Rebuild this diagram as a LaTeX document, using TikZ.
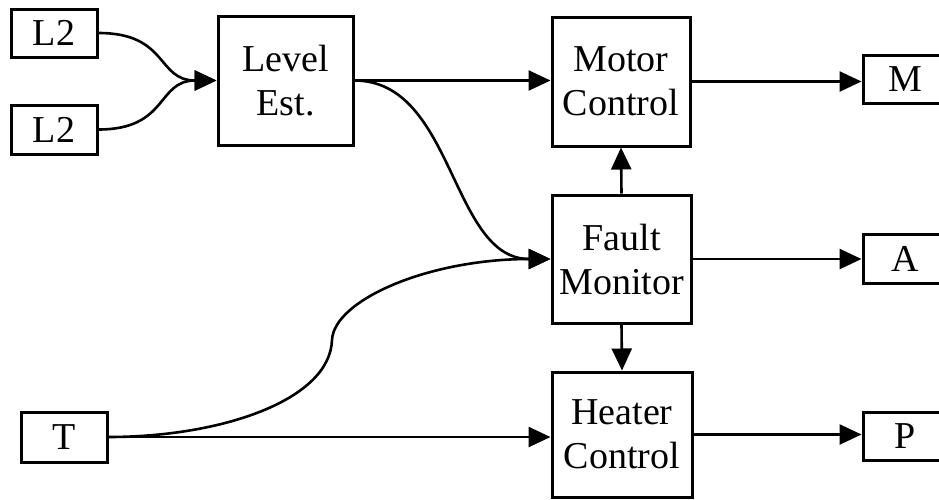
\documentclass[tikz,border=0pt]{standalone}
\usepackage{fontspec}
\setmainfont{Liberation Serif}
\usetikzlibrary{arrows.meta}
\tikzset{
  blk/.style={draw, line width=3pt, inner sep=0pt, align=center,
    font=\fontsize{38}{44}\selectfont},
  conn/.style={line width=2.6pt, -{Triangle[length=22pt,width=20pt]}},
}
\begin{document}
\begin{tikzpicture}[x=1pt,y=-1pt]
\useasboundingbox (0,0) rectangle (939,499);
\fill[white] (0,0) rectangle (939,499);
\node[blk, minimum width=86pt, minimum height=48pt] (L2a) at (54,33) {L2};
\node[blk, minimum width=86pt, minimum height=49pt] (L2b) at (54,129.5) {L2};
\node[blk, minimum width=135pt, minimum height=129pt] (Level) at (285.5,80.5) {Level\\Est.};
\node[blk, minimum width=138pt, minimum height=129pt] (Motor) at (621,81.5) {Motor\\Control};
\node[blk, minimum width=139pt, minimum height=128pt] (Fault) at (621.5,259) {Fault\\Monitor};
\node[blk, minimum width=140pt, minimum height=125pt] (Heater) at (622,434.5) {Heater\\Control};
\node[blk, minimum width=86pt, minimum height=50pt] (T) at (64,437) {T};
\node[blk, minimum width=84pt, minimum height=48pt] (M) at (905,79) {M};
\node[blk, minimum width=84pt, minimum height=49pt] (A) at (905,258.5) {A};
\node[blk, minimum width=84pt, minimum height=48pt] (P) at (905,436) {P};
\coordinate (Tmid) at (332,340);

\draw[conn] (L2a.east) .. controls +(70,0) and +(-60,0) .. (Level.west);
\draw[conn] (L2b.east) .. controls +(70,0) and +(-60,0) .. (Level.west);
\draw[conn] (Level.east) -- (Level.east -| Motor.west);
\draw[conn] (Level.east) .. controls +(100,0) and +(-100,0) .. (Fault.west);
\draw[conn] (T.east) .. controls +(113,0) and +(-2,60) .. (Tmid)
  .. controls +(2,-40) and +(-122,0) .. (Fault.west);
\draw[conn] (T.east) -- (T.east -| Heater.west);
\draw[conn] (Fault.north) -- (Motor.south);
\draw[conn] (Fault.south) -- (Heater.north);
\draw[conn] (Motor.east) -- (Motor.east -| M.west);
\draw[conn] (Fault.east) -- (Fault.east -| A.west);
\draw[conn] (Heater.east) -- (Heater.east -| P.west);
\end{tikzpicture}
\end{document}
